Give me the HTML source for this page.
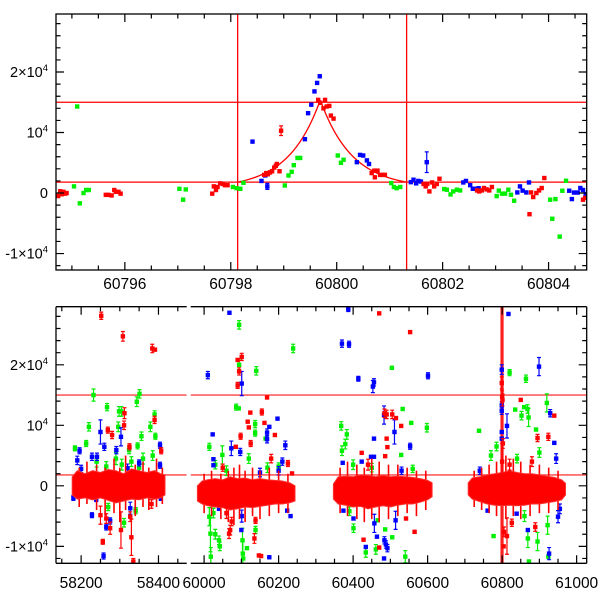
<!DOCTYPE html>
<html><head><meta charset="utf-8"><style>
html,body{margin:0;padding:0;background:#fff;}
svg{display:block;font-family:"Liberation Sans",sans-serif;}
</style></head><body>
<svg id="chart" width="600" height="600" viewBox="0 0 600 600"></svg>
<script>
// ---------- TOP PANEL DATA (zoom on event) ----------
const topRed = [[60794.71,-300],[60794.74,-500],[60794.78,300],[60794.81,-200],[60794.84,200],[60794.87,-100],[60794.90,0],
[60795.64,-300],[60795.69,-300],[60795.75,-400],[60795.80,500],[60795.83,200],[60795.88,200],[60795.92,-100],
[60797.65,-100],[60797.68,1100],[60797.72,500],[60797.75,1000],[60797.80,1600],[60797.85,1500],[60797.89,1300],[60797.94,1300],
[60798.63,3000],[60798.67,3300],[60798.70,3100],[60798.74,3400],[60798.78,3600],[60798.82,4200],[60798.85,4500],[60798.87,4800],[60798.92,3600],
[60799.65,15400],[60799.69,14900],[60799.75,14000],[60799.78,15400],[60799.81,14300],[60799.86,14400],[60799.89,12800],[60799.94,12300],
[60800.66,3300],[60800.71,3700],[60800.72,2600],[60800.77,3700],[60800.82,3000],[60800.87,3000],[60800.91,3000],
[60801.64,1500],[60801.68,1100],[60801.71,1500],[60801.75,270],[60801.80,1750],[60801.84,1100],[60801.89,1500],[60801.94,2360],
[60802.65,430],[60802.69,270],[60802.74,430],[60802.78,830],[60802.83,600],[60802.88,430],[60802.93,1000],
[60803.64,-3500],[60803.67,100],[60803.71,-660],[60803.77,0],[60803.82,430],[60803.87,830],[60803.92,2480],
[60804.65,-1100],[60804.69,-800]];
const topRedErr = [[60798.95,10300,800]];
const topGreen = [[60795.04,1100],[60795.10,14300],[60795.15,-1700],[60795.22,0],[60795.27,500],[60795.32,500],
[60797.03,700],[60797.10,-1100],[60797.15,600],
[60798.04,1000],[60798.11,800],[60798.18,700],[60798.24,1700],
[60799.02,1250],[60799.09,2900],[60799.15,3500],[60799.19,4600],[60799.26,5800],[60799.31,5800],
[60800.02,6200],[60800.08,5000],[60800.13,5500],
[60801.03,1650],[60801.08,1000],[60801.13,800],[60801.20,1000],
[60802.03,660],[60802.08,550],[60802.15,-230],[60802.20,270],[60802.27,550],[60802.33,430],
[60803.02,-500],[60803.06,400],[60803.12,-100],[60803.18,-100],[60803.24,550],[60803.29,-280],[60803.35,-1270],
[60804.03,-1100],[60804.07,-4250],[60804.13,-1000],[60804.21,-7200],[60804.26,380],[60804.33,2030]];
const topBlue = [[60798.41,8500],[60798.58,2000],[60798.65,2900],
[60799.40,8900],[60799.46,13200],[60799.52,14600],[60799.58,16800],[60799.63,18200],[60799.68,19300],
[60800.38,5100],[60800.44,6300],[60800.50,6200],[60800.57,5400],[60800.61,4800],
[60801.40,1800],[60801.45,2200],[60801.50,1600],[60801.54,2000],[60801.59,1900],
[60802.39,1750],[60802.44,2000],[60802.52,1300],[60802.57,700],[60802.61,700],[60802.68,800],
[60803.41,100],[60803.46,1100],[60803.51,400],[60803.58,100],[60803.63,1750],
[60804.39,380],[60804.44,-1000],[60804.48,80],[60804.55,80],[60804.60,830],[60804.65,500],[60804.70,-170]];
const topBlueErr = [[60798.69,1100,500],[60801.70,5100,1700]];
const topXTicks = [60796,60798,60800,60802,60804];
const topXTickLabels = ["60796","60798","60800","60802","60804"];
const yTicks = [-10000,0,10000,20000];
const yTickLabels = [["-1×10","4"],["0",""],["10","4"],["2×10","4"]];
const hLines = [15000,1800];
const vLines = [60798.13,60801.32];
const modelPeakT = [60799.69], modelPeakF = [15400], modelBase = [1800], modelTau = [0.6];

// ---------- BOTTOM PANEL DATA (full light curve) ----------
const coreT = [
[58177,58190,58210,58230,58250,58270,58290,58310,58330,58350,58370,58390,58405,58417],
[59982,59995,60010,60030,60050,60070,60090,60110,60130,60150,60170,60190,60210,60230,60244],
[60347,60360,60380,60400,60420,60440,60460,60480,60500,60520,60540,60560,60580,60600,60612],
[60709,60720,60740,60760,60780,60800,60820,60840,60860,60880,60900,60920,60940,60960,60970]];
const coreHi = [
[1500,2500,2000,2500,2200,2700,2500,2000,2800,2500,2200,2500,2000,1800],
[0,800,1000,1200,1000,1500,1200,1300,1000,1200,1000,900,800,500,0],
[300,1500,1600,1500,1800,1700,1500,1700,1500,1600,1500,1400,1200,900,500],
[500,1300,1500,1800,2000,2200,2500,2200,2000,2000,1800,1600,1400,1000,400]];
const coreLo = [
[-1500,-2200,-2000,-2300,-2000,-2400,-2800,-2500,-2200,-2300,-2000,-2200,-2000,-1500],
[-2500,-3000,-3300,-3500,-3600,-4000,-3800,-3500,-3600,-3400,-3200,-3000,-3000,-2800,-2500],
[-2200,-3000,-3200,-3500,-3400,-3800,-3500,-3300,-3500,-3200,-3000,-3000,-2700,-2300,-1800],
[-1500,-2200,-2600,-3000,-3200,-3300,-3200,-3300,-3200,-3000,-3000,-2800,-2600,-2300,-1500]];
const spikeT = [58195,58215,58240,58262,58285,58300,58315,58340,58360,58375,58395,58410,
60000,60020,60045,60065,60080,60095,60110,60130,60150,60175,60200,60225,
60365,60385,60410,60430,60450,60470,60495,60520,60545,60570,60595,
60725,60745,60765,60785,60810,60830,60850,60875,60900,60925,60950];
const spikeLo = [-3500,-3000,-4000,-5000,-4500,-6000,-4000,-5000,-3500,-4000,-3500,-3000,
-4500,-5000,-5500,-6000,-6500,-5500,-6000,-5000,-5500,-5000,-4500,-4500,
-4500,-5000,-5500,-6000,-5500,-6000,-5500,-5000,-4500,-5000,-4000,
-3500,-4000,-4500,-5000,-5500,-5000,-5500,-5000,-4500,-4500,-4000];
const spikeHi = [3000,4000,3500,3000,4500,3000,5000,3500,4000,3000,4500,3000,
2000,2500,2000,2500,3000,3500,2500,3000,2500,3000,2500,2000,
3000,4000,3500,3000,4500,4000,3500,3500,3000,2500,2500,
2500,3000,3500,4000,5000,4500,4000,3500,3500,3000,2500];
const lcGreen = [[58232,15000,1000],[58344,13900,800],[58351,15200,700],[58267,13000,600],[58298,12300,800],[58304,12300,800],[58390,11800,600],[58220,9750,700],[58296,9750,800],[58379,9750,800],[58392,8200,500],[58356,8200,700],[58213,7000,500],[58184,6200,400],[58346,6600,500],[58324,5900,600],[58311,-6100,700],[58341,-4100,500],[58270,-3500,600],[58240,4000,900],[58290,4500,1000],[58330,4000,800],[58360,4500,900],[58385,5000,800],[58265,3200,800],[58305,3500,900],[58350,3000,700],
[60094,26600,700],[60239,22700,700],[60094,20000,800],[60140,19000,700],[60086,13000,500],[60093,12800,0],[60137,10200,600],[60137,8700,500],[60165,7800,0],[60014,6450,600],[60049,5100,1500],[60014,-5100,1500],[60017,-7900,3000],[60018,-11700,1500],[60030,-8000,800],[60040,-9000,700],[60042,-10000,700],[60103,-9000,2000],[60104,-11200,2000],[60105,-12000,0],[60115,-10300,0],[60138,-7300,600],[60030,3500,700],[60120,4500,800],[60170,3000,800],[60200,3200,600],[60060,2500,800],[60025,-4500,800],
[60504,19500,0],[60533,12700,0],[60556,10400,0],[60368,9900,700],[60598,9600,700],[60383,8500,800],[60379,6900,800],[60370,5800,800],[60529,5100,0],[60401,-7000,700],[60434,-11000,800],[60461,-10500,800],[60466,-5700,0],[60486,-7200,0],[60505,-8500,0],[60540,-11700,1000],[60400,3500,800],[60450,3000,700],[60560,2800,600],[60390,-4200,700],
[60820,18700,500],[60864,17700,600],[60920,13700,1500],[60835,12600,0],[60859,13000,0],[60868,12700,700],[60852,11600,700],[60871,11300,1500],[60738,9100,0],[60891,9300,0],[60777,-8300,0],[60869,-8700,1500],[60895,-9200,1500],[60924,-11700,0],[60922,-6500,1500],[60872,-12500,0],[60770,5000,800],[60785,6500,700],[60840,4500,700],[60900,5500,800],[60860,-5000,900]];
const lcBlue = [[58250,8900,2000],[58303,8100,1500],[58260,6450,600],[58404,6700,500],[58196,5800,500],[58291,5900,600],[58404,3400,500],[58228,4800,600],[58241,4800,600],[58228,-4850,400],[58265,-6800,500],[58275,-5800,500],[58258,-11600,500],[58327,-3700,1000],[58239,-2200,400],[58180,-2000,400],[58406,-2000,400],[58190,4200,700],[58350,3800,500],[58200,2800,600],[58320,2900,700],
[60068,28600,0],[60010,18300,600],[60101,16900,2000],[60197,11100,0],[60175,9750,0],[60023,8500,0],[60169,7700,600],[60169,8800,600],[60218,6700,700],[60097,5600,600],[60025,4400,0],[60025,3400,0],[60073,6200,1200],[60100,-7300,0],[60101,-5000,1000],[60232,-5000,0],[60223,-4100,0],[60175,-11800,0],[60040,-3800,0],[60200,2500,700],[60210,4000,600],[60150,2200,700],
[60387,29200,400],[60370,23500,600],[60389,23400,500],[60414,17700,400],[60453,16400,1000],[60456,17100,600],[60601,18200,500],[60483,11700,1500],[60511,8900,2000],[60456,7800,0],[60553,6550,500],[60448,4800,0],[60456,4800,0],[60423,4000,0],[60372,3800,0],[60374,-4100,0],[60401,-5400,0],[60434,-10100,0],[60457,-6200,1500],[60484,-9000,600],[60488,-9700,600],[60492,-10300,600],[60483,-12000,0],[60514,-5700,1500],[60464,-8400,0],[60530,2500,600],
[60817,28400,0],[60799,19200,800],[60899,19700,1500],[60799,13300,600],[60799,12400,600],[60929,12000,600],[60813,9900,2000],[60940,7100,0],[60799,8900,0],[60799,7800,0],[60869,-7300,0],[60926,-11200,1000],[60950,-5100,1000],[60761,-4100,0],[60839,-4600,0],[60945,4500,800],[60740,2500,600],[60955,-3800,800]];
const lcRed = [[58252,28100,600],[58308,24700,800],[58384,22700,700],[58391,22500,0],[58312,12000,900],[58311,10000,700],[58390,10900,600],[58269,9200,500],[58280,8400,600],[58325,6450,500],[58407,5800,500],[58250,-4850,1500],[58265,-5400,800],[58275,-7000,1000],[58256,-9250,400],[58303,-7300,3000],[58327,-5100,800],[58330,-8500,3000],[58335,-12500,500],[58382,-3000,700],
[60101,21300,600],[60090,20800,0],[60094,18900,600],[60090,16600,500],[60169,14600,0],[60124,12100,0],[60155,12200,500],[60117,10600,0],[60120,9650,0],[60162,10400,0],[60098,8200,500],[60190,8400,0],[60125,7000,500],[60085,6450,0],[60225,3700,500],[60236,2050,0],[60070,-7300,800],[60067,-7900,800],[60074,-5900,700],[60135,-8700,800],[60138,-5700,500],[60147,-11500,0],[60153,-11600,0],[60050,3000,600],[60060,-4500,900],[60180,4500,700],
[60470,28500,0],[60553,25400,0],[60484,12000,700],[60490,11800,700],[60505,11800,700],[60515,11200,0],[60529,9900,0],[60490,7800,0],[60492,6400,0],[60423,5450,0],[60486,4900,0],[60428,-8900,0],[60470,-10200,0],[60542,-5400,0],[60565,-7600,0],[60440,3500,900],
[60799,17000,1000],[60800,14700,1000],[60801,14200,1000],[60850,14200,0],[60940,11600,0],[60895,7900,600],[60924,8100,600],[60802,7000,800],[60805,-7600,800],[60813,-8300,3000],[60826,-6100,600],[60804,-10000,0],[60889,-6800,700],[60800,4000,3000],[60820,3500,900],[60880,4000,800]];
const botLeftTicks = [58200,58400], botRightTicks = [60000,60200,60400,60600,60800,61000];

// ---------- GEOMETRY ----------
const NS="http://www.w3.org/2000/svg";
const svg=document.getElementById('chart');
function mk(tag,attrs,parent){const e=document.createElementNS(NS,tag);for(const k in attrs)e.setAttribute(k,attrs[k]);(parent||svg).appendChild(e);return e;}
const T={x0:56,x1:586.7,y0:14,y1:270,t0:60794.70,t1:60804.72,f0:-12720,f1:29590};
const B={y0:306.7,y1:563.3,f0:-12800,f1:29600};
const BL={x0:56,x1:186.7,t0:58135,t1:58473};
const BR={x0:190.7,x1:586.7,t0:59964,t1:61027};
function tx(t){return T.x0+(t-T.t0)/(T.t1-T.t0)*(T.x1-T.x0);}
function ty(f){return T.y1-(f-T.f0)/(T.f1-T.f0)*(T.y1-T.y0);}
function by(f){return B.y1-(f-B.f0)/(B.f1-B.f0)*(B.y1-B.y0);}
function bx(t){const s=t<59000?BL:BR;return s.x0+(t-s.t0)/(s.t1-s.t0)*(s.x1-s.x0);}
const COL={r:"#ff0000",g:"#00ee00",b:"#0000ff"};

function point(g,x,y,c,ey0,ey1,name){
  if(ey0!==undefined && Math.abs(ey1-ey0)>2){
    const eb=mk('path',{d:`M${x},${ey0}V${ey1}M${x-2},${ey0}H${x+2}M${x-2},${ey1}H${x+2}`,stroke:c,'stroke-width':1.2,fill:'none'},g);
    
    
  }
  const r=mk('rect',{x:x-2.2,y:y-2.2,width:4.4,height:4.4,fill:c},g);
  
  
}

// ---------- TOP PANEL ----------
const gt=mk('g',{});


const clipT=mk('clipPath',{id:'clipT'});mk('rect',{x:T.x0,y:T.y0,width:T.x1-T.x0,height:T.y1-T.y0},clipT);
const gtd=mk('g',{'clip-path':'url(#clipT)'},gt);


hLines.forEach(h=>{const l=mk('line',{x1:T.x0,x2:T.x1,y1:ty(h),y2:ty(h),stroke:'#ff0000','stroke-width':1.3},gtd);
 
 });
vLines.forEach(v=>{const l=mk('line',{x1:tx(v),x2:tx(v),y1:T.y0,y2:T.y1,stroke:'#ff0000','stroke-width':1.3},gtd);
 
 });
// model curve: peaked profile that returns to baseline at event boundaries
let d='';
const A=modelPeakF[0]-modelBase[0];
for(let i=0;i<=240;i++){const t=vLines[0]+(vLines[1]-vLines[0])*i/240;
 const dt=t-modelPeakT[0];
 const edge=dt<0?(modelPeakT[0]-vLines[0]):(vLines[1]-modelPeakT[0]);
 const e0=Math.exp(-edge/modelTau[0]);
 const f=modelBase[0]+A*(Math.exp(-Math.abs(dt)/modelTau[0])-e0)/(1-e0);
 d+=(i?'L':'M')+tx(t).toFixed(2)+','+ty(f).toFixed(2);}
const mc=mk('path',{d:d,stroke:'#ff0000','stroke-width':1.3,fill:'none'},gtd);


topGreen.forEach(p=>point(gtd,tx(p[0]),ty(p[1]),COL.g,undefined,undefined,'green-point'));
topBlue.forEach(p=>point(gtd,tx(p[0]),ty(p[1]),COL.b,undefined,undefined,'blue-point'));
topBlueErr.forEach(p=>point(gtd,tx(p[0]),ty(p[1]),COL.b,ty(p[1]+p[2]),ty(p[1]-p[2]),'blue-point'));
topRed.forEach(p=>point(gtd,tx(p[0]),ty(p[1]),COL.r,undefined,undefined,'red-point'));
topRedErr.forEach(p=>point(gtd,tx(p[0]),ty(p[1]),COL.r,ty(p[1]+p[2]),ty(p[1]-p[2]),'red-point'));
const fr=mk('rect',{x:T.x0,y:T.y0,width:T.x1-T.x0,height:T.y1-T.y0,fill:'none',stroke:'#000','stroke-width':1.3},gt);


let tk='';
for(let t=60795;t<=60804.7;t+=0.5){const x=tx(t);const L=(Math.abs(t-Math.round(t))<1e-6&&Math.round(t)%2===0)?8:4.5;tk+=`M${x},${T.y1}v${-L}M${x},${T.y0}v${L}`;}
for(let f=-12000;f<=28000;f+=2000){const y=ty(f);const L=(f%10000===0)?8:4.5;tk+=`M${T.x0},${y}h${L}M${T.x1},${y}h${-L}`;}
mk('path',{d:tk,stroke:'#000','stroke-width':1.2,fill:'none'},gt);
topXTicks.forEach((t,i)=>{const e=mk('text',{x:tx(t),y:289,'font-size':15.5,'text-anchor':'middle'},gt);e.textContent=topXTickLabels[i];
 
 });
function ylabels(g,yf){yTicks.forEach((f,i)=>{const e=mk('text',{x:48,y:yf(f)+5,'font-size':14.5,'text-anchor':'end'},g);
 
 
 const a=mk('tspan',{},e);a.textContent=yTickLabels[i][0];
 if(yTickLabels[i][1]){const s=mk('tspan',{'font-size':9.5,dy:-6},e);s.textContent=yTickLabels[i][1];}});}
ylabels(gt,ty);

// ---------- BOTTOM PANEL ----------
const gb=mk('g',{});


[BL,BR].forEach((S,si)=>{
 const cp=mk('clipPath',{id:'clipB'+si});mk('rect',{x:S.x0,y:B.y0,width:S.x1-S.x0,height:B.y1-B.y0},cp);
});
const gbl=mk('g',{'clip-path':'url(#clipB0)'},gb);


const gbr=mk('g',{'clip-path':'url(#clipB1)'},gb);


[gbl,gbr].forEach((g,si)=>{const S=si?BR:BL;
 hLines.forEach(h=>{const l=mk('line',{x1:S.x0,x2:S.x1,y1:by(h),y2:by(h),stroke:'#ff4040','stroke-width':1.3},g);
  
  });});
vLines.forEach(v=>{const l=mk('line',{x1:bx(v),x2:bx(v),y1:B.y0,y2:B.y1,stroke:'#ff2020','stroke-width':2},gbr);
 
 });
function gFor(t){return t<59000?gbl:gbr;}
function drawLC(arr,c,name){arr.forEach(p=>{const g=gFor(p[0]);point(g,bx(p[0]),by(p[1]),c,by(p[1]+p[2]),by(p[1]-p[2]),name);});}
// fringe colours beneath the core
drawLC(lcGreen,COL.g,'green-point');
drawLC(lcBlue,COL.b,'blue-point');
// red error-bar spikes within the dense core
spikeT.forEach((t,i)=>{const x=bx(t);
 const s=mk('path',{d:`M${x},${by(spikeHi[i])}V${by(spikeLo[i])}`,stroke:'#ff0000','stroke-width':1.6},gFor(t));
 
 });
coreT.forEach((ts,k)=>{
 let p='';ts.forEach((t,i)=>{p+=(i?'L':'M')+bx(t).toFixed(1)+','+by(coreHi[k][i]).toFixed(1);});
 for(let i=ts.length-1;i>=0;i--)p+='L'+bx(ts[i]).toFixed(1)+','+by(coreLo[k][i]).toFixed(1);
 p+='Z';
 const e=mk('path',{d:p,fill:'#ff0000',stroke:'#ff3030','stroke-width':1},gFor(ts[0]));
 
 
});
drawLC(lcRed,COL.r,'red-point');
let fb=`M${BL.x0},${B.y0}H${BL.x1}M${BL.x0},${B.y1}H${BL.x1}M${BL.x0},${B.y0}V${B.y1}M${BR.x0},${B.y0}H${BR.x1}M${BR.x0},${B.y1}H${BR.x1}M${BR.x1},${B.y0}V${B.y1}`;
const fbe=mk('path',{d:fb,stroke:'#000','stroke-width':1.3,fill:'none'},gb);


let tb='';
for(let t=58150;t<=58470;t+=50){const x=bx(t);const L=(t%200===0)?8:4.5;tb+=`M${x},${B.y1}v${-L}M${x},${B.y0}v${L}`;}
for(let t=60000;t<=61020;t+=50){const x=bx(t);const L=(t%200===0)?8:4.5;tb+=`M${x},${B.y1}v${-L}M${x},${B.y0}v${L}`;}
for(let f=-12000;f<=28000;f+=2000){const y=by(f);const L=(f%10000===0)?8:4.5;tb+=`M${BL.x0},${y}h${L}M${BR.x1},${y}h${-L}`;}
mk('path',{d:tb,stroke:'#000','stroke-width':1.2,fill:'none'},gb);
botLeftTicks.concat(botRightTicks).forEach(t=>{const e=mk('text',{x:bx(t),y:588,'font-size':15.5,'text-anchor':'middle'},gb);e.textContent=String(t);
 
 });
ylabels(gb,by);
</script>
</body></html>
